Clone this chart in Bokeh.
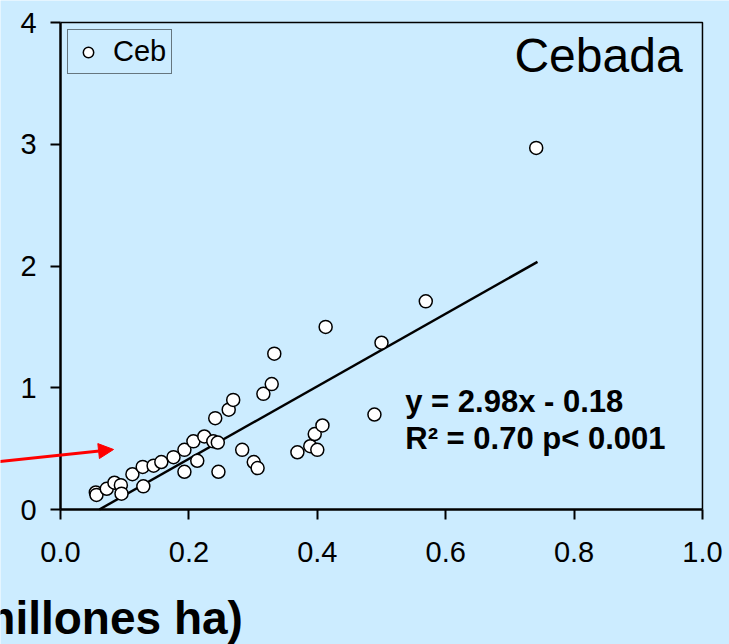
from bokeh.plotting import figure
from bokeh.models import Label, Arrow, NormalHead, FixedTicker, Legend, LegendItem, Range1d
from bokeh.embed import file_html
from bokeh.resources import INLINE

# ---- data ----
x_vals = [0.055, 0.056, 0.072, 0.084, 0.094, 0.095, 0.112, 0.129, 0.128, 0.145,
          0.157, 0.176, 0.193, 0.193, 0.213, 0.207, 0.224, 0.238, 0.245, 0.241,
          0.262, 0.269, 0.246, 0.283, 0.301, 0.307, 0.316, 0.329, 0.333, 0.369,
          0.389, 0.396, 0.400, 0.408, 0.413, 0.489, 0.500, 0.569, 0.741]
y_vals = [0.14, 0.12, 0.17, 0.22, 0.20, 0.13, 0.29, 0.19, 0.35, 0.36,
          0.39, 0.43, 0.49, 0.31, 0.40, 0.56, 0.60, 0.56, 0.55, 0.75,
          0.82, 0.90, 0.31, 0.49, 0.39, 0.34, 0.95, 1.03, 1.28, 0.47,
          0.52, 0.62, 0.49, 0.69, 1.50, 0.78, 1.37, 1.71, 2.97]
series_name = "Ceb"
crop_name = "Cebada"
fit_slope = 2.98
fit_intercept = -0.18
fit_x = [0.0604, 0.743]
fit_y = [fit_slope * v + fit_intercept for v in fit_x]
eq_text = "y = 2.98x - 0.18"
r2_text = "R\u00b2 = 0.70 p< 0.001"
x_ticks = [0.0, 0.2, 0.4, 0.6, 0.8, 1.0]
x_tick_labels = ["0.0", "0.2", "0.4", "0.6", "0.8", "1.0"]
y_ticks = [0, 1, 2, 3, 4]
x_axis_title = "millones ha)"

BG = "#CCECFF"
FONT = "Liberation Sans"
x_min, x_max = x_ticks[0], x_ticks[-1]
y_min, y_max = y_ticks[0], y_ticks[-1]

# the frame fills the whole canvas; axes are pinned at x=0 / y=0
p = figure(width=729, height=644,
           x_range=Range1d(-0.0935, 1.0421), y_range=Range1d(-1.1088, 4.1807),
           output_backend="svg", toolbar_location=None, min_border=0)
p.grid.visible = False
p.background_fill_color = BG
p.border_fill_color = BG
p.outline_line_color = None

p.xaxis.ticker = FixedTicker(ticks=x_ticks)
p.xaxis.major_label_overrides = dict(zip(x_ticks, x_tick_labels))
p.yaxis.ticker = FixedTicker(ticks=y_ticks)
p.xaxis.fixed_location = y_min
p.yaxis.fixed_location = x_min
p.xaxis.bounds = (x_min, x_max)
p.yaxis.bounds = (y_min, y_max)
for ax in (p.xaxis[0], p.yaxis[0]):
    ax.axis_line_width = 2.5
    ax.axis_line_color = "black"
    ax.major_tick_line_width = 2
    ax.major_tick_line_color = "black"
    ax.major_tick_out = 10
    ax.major_tick_in = 0
    ax.minor_tick_line_color = None
    ax.major_label_text_font = FONT
    ax.major_label_text_font_size = "29px"
    ax.major_label_text_color = "black"
p.xaxis.major_label_standoff = 22
p.yaxis.major_label_standoff = 14

# top and right plot-area border
p.line([x_min, x_max, x_max], [y_max, y_max, y_min], line_color="black", line_width=1.5)

p.line(fit_x, fit_y, line_color="black", line_width=2.5)
r = p.scatter(x_vals, y_vals, marker="circle", size=13, fill_color="white",
              line_color="black", line_width=1.5)

legend = Legend(items=[LegendItem(label=series_name, renderers=[r])],
                location=(67, 570), margin=0, padding=5, spacing=0,
                glyph_width=30, glyph_height=26, label_standoff=10,
                border_line_color="black", border_line_width=1,
                background_fill_color=BG, background_fill_alpha=1.0,
                label_text_font=FONT, label_text_font_size="29px",
                label_text_color="black")
p.add_layout(legend)

p.add_layout(Label(x=0.969, y=3.729, text=crop_name, text_align="right",
                   text_baseline="alphabetic", text_font=FONT,
                   text_font_size="48px", text_color="black"))
p.add_layout(Label(x=0.537, y=0.887, text=eq_text, text_align="left",
                   text_baseline="alphabetic", text_font=FONT,
                   text_font_size="31px", text_font_style="bold",
                   text_color="black"))
p.add_layout(Label(x=0.537, y=0.585, text=r2_text, text_align="left",
                   text_baseline="alphabetic", text_font=FONT,
                   text_font_size="31px", text_font_style="bold",
                   text_color="black"))
p.add_layout(Label(x=-0.134, y=-0.895, text=x_axis_title, text_align="left",
                   text_baseline="alphabetic", text_font=FONT,
                   text_font_size="46px", text_font_style="bold",
                   text_color="black"))

p.add_layout(Arrow(x_start=-0.109, y_start=0.386, x_end=0.0826, y_end=0.493,
                   line_color="#FF0000", line_width=3,
                   end=NormalHead(size=15, fill_color="#FF0000",
                                  line_color="#FF0000", line_width=1)))

open("out.html", "w").write(file_html(p, INLINE))
